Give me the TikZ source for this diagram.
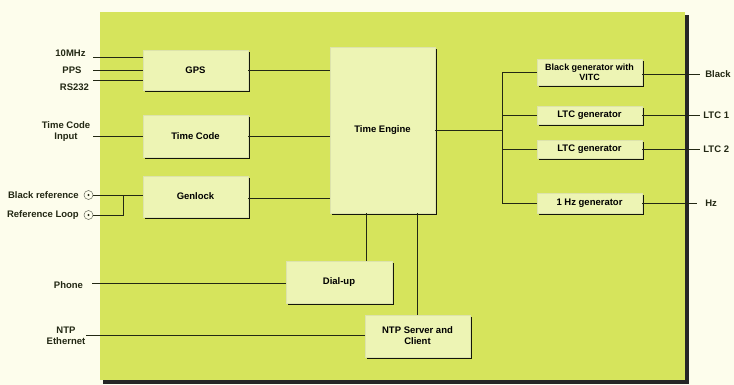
\documentclass[tikz,border=0pt]{standalone}
\usepackage{fontspec}
\setmainfont{Liberation Sans}
\usetikzlibrary{shadows,calc}
\definecolor{bgc}{RGB}{253,253,236}
\definecolor{panelc}{RGB}{214,228,92}
\definecolor{boxc}{RGB}{237,244,180}
\definecolor{linec}{RGB}{35,40,20}
\begin{document}
\begin{tikzpicture}[x=1pt,y=-1pt,
  blk/.style={draw=boxc!85!gray, line width=0.3pt, fill=boxc,
    font=\fontsize{9.5}{11}\selectfont\bfseries, align=center, inner sep=1pt,
    drop shadow={shadow xshift=2.2pt,shadow yshift=-2.2pt,fill=black,opacity=0.9}},
  lbl/.style={font=\fontsize{9.5}{11}\selectfont\bfseries, align=center, inner sep=0pt, text=linec},
  wire/.style={draw=linec, line width=0.7pt},
  jack/.style={circle, draw=linec!70, line width=0.5pt, fill=bgc, minimum size=9pt, inner sep=0pt,
    path picture={\fill[linec] (path picture bounding box.center) circle (1.2pt);}}]
\useasboundingbox (0,0) rectangle (734,385);
\fill[bgc] (0,0) rectangle (734,385);
% panel
\fill[black!85] (103,15) rectangle (689,384);
\fill[panelc] (100,12) rectangle (685,380);

% blocks
\node[blk, minimum width=105pt, minimum height=40pt] (gps) at (195.5,70) {GPS};
\node[blk, minimum width=105pt, minimum height=42pt] (tc) at (195.5,136) {Time Code};
\node[blk, minimum width=105pt, minimum height=41pt] (gen) at (195.5,196.5) {Genlock};
\node[blk, minimum width=105pt, minimum height=166pt] (te) at (382.5,130) {Time Engine};
\node[blk, minimum width=106pt, minimum height=42pt] (dial) at (339,282) {Dial-up};
\node[blk, minimum width=105pt, minimum height=42pt] (ntp) at (417.5,336) {NTP Server and\\Client};
\node[blk, minimum width=105pt, minimum height=26pt, font=\fontsize{9}{10}\selectfont\bfseries] (bg) at (589.5,72) {Black generator with\\VITC};
\node[blk, minimum width=105pt, minimum height=18pt] (ltc1) at (589.5,115) {LTC generator};
\node[blk, minimum width=105pt, minimum height=18pt] (ltc2) at (589.5,149) {LTC generator};
\node[blk, minimum width=105pt, minimum height=20pt] (hz) at (589.5,203) {1 Hz generator};

% left inputs
\coordinate (i1) at (93,57);
\coordinate (i2) at (93,70);
\coordinate (i3) at (93,80);
\coordinate (i4) at (93,136);
\coordinate (i5) at (92,283);
\coordinate (i6) at (86,335);
\node[lbl] (l1) at (70.5,53) {10MHz};
\node[lbl] (l2) at (72,70) {PPS};
\node[lbl] (l3) at (74.5,87) {RS232};
\node[lbl] (l4) at (66,131.5) {Time Code\\Input};
\node[lbl, anchor=east] (l5) at (79,195) {Black reference};
\node[lbl, anchor=east] (l6) at (79,215) {Reference Loop};
\node[lbl] (l7) at (68.5,285) {Phone};
\node[lbl] (l8) at (66,335.5) {NTP\\Ethernet};
\node[jack] (c1) at (88.5,195) {};
\node[jack] (c2) at (88.5,215) {};
\coordinate (jx) at (123,0);

\draw[wire] (i1) -- (i1 -| gps.west);
\draw[wire] (i2) -- (i2 -| gps.west);
\draw[wire] (i3) -- (i3 -| gps.west);
\draw[wire] (i4) -- (i4 -| tc.west);
\draw[wire] (c1.east) -- (c1.east -| gen.west);
\draw[wire] (c2.east) -- (c2.east -| jx) -- (c1.east -| jx);
\draw[wire] (i5) -- (i5 -| dial.west);
\draw[wire] (i6) -- (i6 -| ntp.west);

% to time engine
\draw[wire] (gps.east) -- (gps.east -| te.west);
\draw[wire] (tc.east) -- (tc.east -| te.west);
\draw[wire] ($(gen.east)+(0,1.5)$) -- ($(gen.east -| te.west)+(0,1.5)$);
\coordinate (dx) at (366,0);
\draw[wire] (dial.north -| dx) -- (te.south -| dx);
\draw[wire] (ntp.north) -- (ntp.north |- te.south);

% bus
\coordinate (bx) at (502,0);
\draw[wire] (te.east) -- (te.east -| bx);
\draw[wire] (bg.west) -- (bg.west -| bx) -- (hz.west -| bx) -- (hz.west);
\draw[wire] (ltc1.west) -- (ltc1.west -| bx);
\draw[wire] (ltc2.west) -- (ltc2.west -| bx);

% outputs
\coordinate (ox) at (700,0);
\draw[wire] ($(bg.east)+(0,2)$) coordinate (o1) -- (o1 -| ox) node[lbl, anchor=west, xshift=5pt] (r1) {Black};
\draw[wire] (ltc1.east) -- (ltc1.east -| ox) node[lbl, anchor=west, xshift=3pt] (r2) {LTC 1};
\draw[wire] (ltc2.east) -- (ltc2.east -| ox) node[lbl, anchor=west, xshift=3pt] (r3) {LTC 2};
\draw[wire] (hz.east) -- ($(hz.east -| ox)+(-3,0)$) node[lbl, anchor=west, xshift=8pt] (r4) {Hz};
\end{tikzpicture}
\end{document}
